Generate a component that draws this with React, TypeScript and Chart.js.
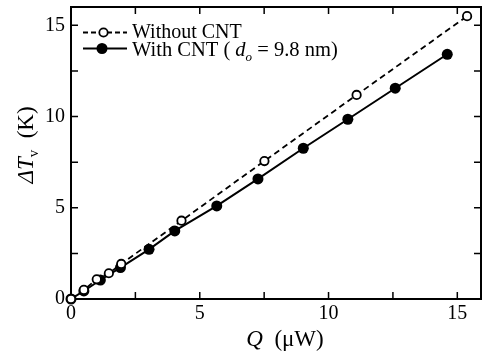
import React, { useEffect, useRef } from "react";
import { Chart, registerables } from "chart.js";

Chart.register(...registerables);

const withoutCntQ = [0, 0.5, 1.0, 1.47, 1.95, 4.29, 7.51, 11.09, 15.38];
const withoutCntT = [0, 0.5, 1.08, 1.41, 1.92, 4.29, 7.56, 11.18, 15.5];
const withCntQ = [0, 0.5, 1.14, 1.92, 3.03, 4.03, 5.66, 7.26, 9.02, 10.75, 12.59, 14.61];
const withCntT = [0, 0.44, 1.04, 1.72, 2.72, 3.73, 5.1, 6.58, 8.26, 9.85, 11.55, 13.41];
const tickMarks = [0, 2.5, 5, 7.5, 10, 12.5, 15];
const labelStep = 5;
const xMax = 15.92;
const yMax = 16;

const FAM = '"Liberation Serif", "Times New Roman", serif';

type Run = { t: string; italic?: boolean; sub?: boolean };

function drawRuns(
  ctx: CanvasRenderingContext2D,
  runs: Run[],
  x: number,
  y: number,
  size: number,
  align: "left" | "center"
) {
  const fontFor = (r: Run) =>
    `${r.italic ? "italic " : ""}${r.sub ? Math.round(size * 0.65) : size}px ${FAM}`;
  ctx.textAlign = "left";
  ctx.textBaseline = "alphabetic";
  let total = 0;
  for (const r of runs) {
    ctx.font = fontFor(r);
    total += ctx.measureText(r.t).width;
  }
  let cx = align === "center" ? x - total / 2 : x;
  for (const r of runs) {
    ctx.font = fontFor(r);
    ctx.fillText(r.t, cx, r.sub ? y + size * 0.22 : y);
    cx += ctx.measureText(r.t).width;
  }
}

const framePlugin = {
  id: "frame",
  beforeDatasetsDraw(chart: any) {
    const { ctx, chartArea } = chart;
    const xs = chart.scales.x;
    const ys = chart.scales.y;
    ctx.save();
    ctx.strokeStyle = "#000";
    ctx.lineWidth = 2;
    ctx.strokeRect(
      chartArea.left,
      chartArea.top,
      chartArea.right - chartArea.left,
      chartArea.bottom - chartArea.top
    );
    ctx.lineWidth = 1.5;
    const L = 7;
    ctx.beginPath();
    for (const v of tickMarks) {
      const px = xs.getPixelForValue(v);
      ctx.moveTo(px, chartArea.bottom);
      ctx.lineTo(px, chartArea.bottom - L);
      ctx.moveTo(px, chartArea.top);
      ctx.lineTo(px, chartArea.top + L);
      const py = ys.getPixelForValue(v);
      ctx.moveTo(chartArea.left, py);
      ctx.lineTo(chartArea.left + L, py);
      ctx.moveTo(chartArea.right, py);
      ctx.lineTo(chartArea.right - L, py);
    }
    ctx.stroke();
    ctx.restore();
  },
  afterDraw(chart: any) {
    const { ctx } = chart;
    ctx.save();
    ctx.fillStyle = "#000";
    ctx.strokeStyle = "#000";
    // legend line 1 (dashed, open circle)
    ctx.lineWidth = 1.8;
    ctx.setLineDash([5, 3]);
    ctx.beginPath();
    ctx.moveTo(83, 32.5);
    ctx.lineTo(127, 32.5);
    ctx.stroke();
    ctx.setLineDash([]);
    ctx.beginPath();
    ctx.arc(103.5, 32.5, 4.2, 0, Math.PI * 2);
    ctx.fillStyle = "#fff";
    ctx.fill();
    ctx.stroke();
    ctx.fillStyle = "#000";
    drawRuns(ctx, [{ t: "Without CNT" }], 132, 38, 20, "left");
    // legend line 2 (solid, filled circle)
    ctx.lineWidth = 2;
    ctx.beginPath();
    ctx.moveTo(83, 48.5);
    ctx.lineTo(127, 48.5);
    ctx.stroke();
    ctx.beginPath();
    ctx.arc(102, 48.5, 5.5, 0, Math.PI * 2);
    ctx.fill();
    drawRuns(
      ctx,
      [
        { t: "With CNT ( " },
        { t: "d", italic: true },
        { t: "o", italic: true, sub: true },
        { t: " = 9.8 nm)" },
      ],
      132,
      56,
      20.5,
      "left"
    );
    // x title
    drawRuns(ctx, [{ t: "Q", italic: true }, { t: "  (\u03bcW)" }], 285, 346, 23, "center");
    // y title
    ctx.save();
    ctx.translate(33, 145);
    ctx.rotate(-Math.PI / 2);
    drawRuns(
      ctx,
      [{ t: "\u0394T", italic: true }, { t: "v", sub: true }, { t: "  (K)" }],
      0,
      0,
      23,
      "center"
    );
    ctx.restore();
    ctx.restore();
  },
};

const zeroPad = (s: any) => {
  s.paddingTop = 0;
  s.paddingBottom = 0;
  s.paddingLeft = 0;
  s.paddingRight = 0;
};

export default function App() {
  const ref = useRef<HTMLCanvasElement | null>(null);
  useEffect(() => {
    if (!ref.current) return;
    const tickCb = (v: any) => (Number(v) % labelStep === 0 ? String(v) : "");
    const chart = new Chart(ref.current, {
      type: "line",
      data: {
        datasets: [
          {
            label: "With CNT",
            data: withCntQ.map((q, i) => ({ x: q, y: withCntT[i] })),
            borderColor: "#000",
            backgroundColor: "#000",
            borderWidth: 2,
            pointRadius: 5.5,
            pointBorderWidth: 0,
            pointBackgroundColor: "#000",
            pointBorderColor: "#000",
            tension: 0,
            order: 1,
          },
          {
            label: "Without CNT",
            data: withoutCntQ.map((q, i) => ({ x: q, y: withoutCntT[i] })),
            borderColor: "#000",
            backgroundColor: "#fff",
            borderWidth: 1.8,
            borderDash: [6, 4],
            pointRadius: 4.2,
            pointBorderWidth: 1.8,
            pointBackgroundColor: "#fff",
            pointBorderColor: "#000",
            tension: 0,
            order: 0,
          },
        ],
      },
      options: {
        animation: false,
        responsive: false,
        clip: false as any,
        layout: { padding: { top: 7, right: 1, left: 0, bottom: 0 } },
        plugins: { legend: { display: false }, tooltip: { enabled: false } },
        scales: {
          x: {
            type: "linear",
            min: 0,
            max: xMax,
            grid: { display: false, drawTicks: false },
            border: { display: false },
            ticks: {
              stepSize: labelStep,
              includeBounds: false,
              callback: tickCb,
              color: "#000",
              padding: 3,
              maxRotation: 0,
              font: { family: FAM, size: 20 },
            },
            afterFit: (s: any) => {
              s.height = 57;
              zeroPad(s);
            },
          },
          y: {
            type: "linear",
            min: 0,
            max: yMax,
            grid: { display: false, drawTicks: false },
            border: { display: false },
            ticks: {
              stepSize: labelStep,
              includeBounds: false,
              callback: tickCb,
              color: "#000",
              padding: 6,
              font: { family: FAM, size: 20 },
            },
            afterFit: (s: any) => {
              s.width = 71;
              zeroPad(s);
            },
          },
        },
      },
      plugins: [framePlugin],
    });
    return () => chart.destroy();
  }, []);
  return (
    <div style={{ position: "absolute", left: 0, top: 0, width: 487, height: 356, background: "#fff" }}>
      <canvas ref={ref} width={487} height={356} style={{ display: "block" }} />
    </div>
  );
}
